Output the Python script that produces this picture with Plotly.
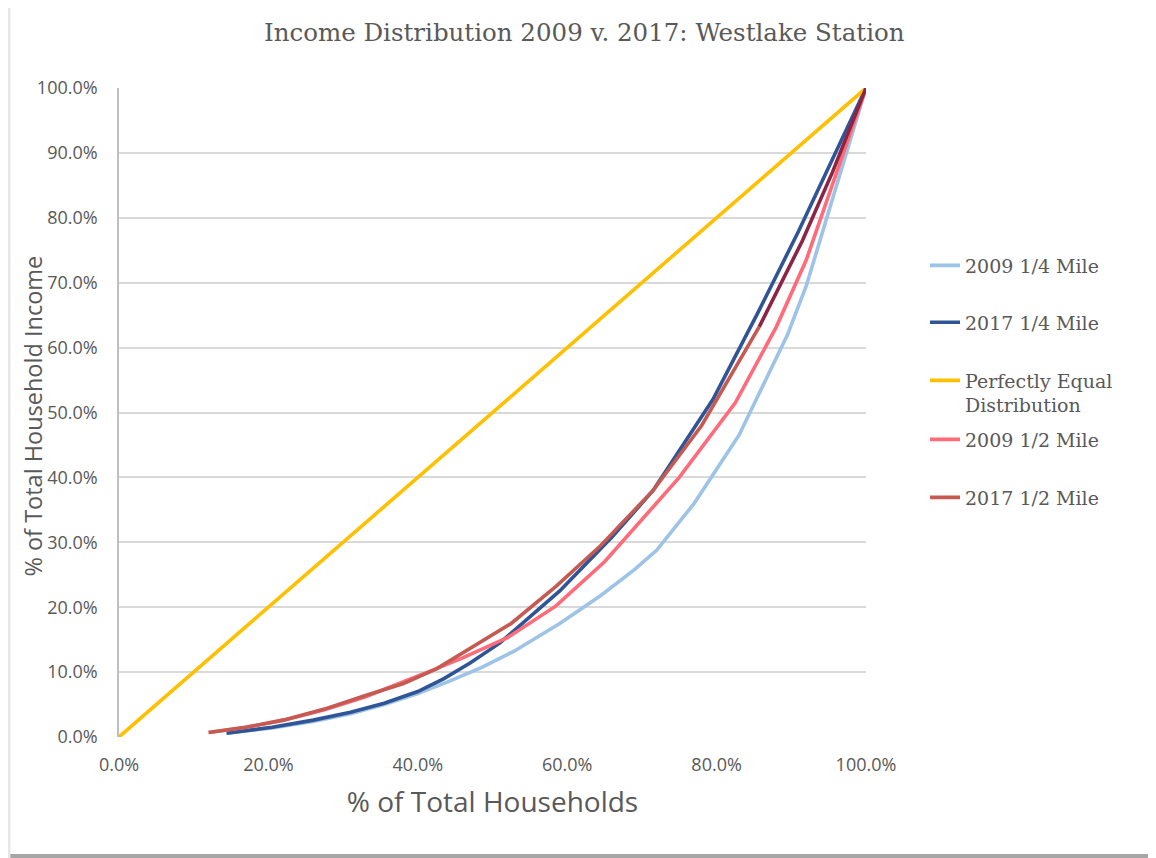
import plotly.graph_objects as go

# cumulative % of households (x) and % of income (y)
x_2009_qtr = [14.4, 20.5, 26, 31, 35.5, 40, 44, 48.5, 53, 59, 64.5, 69, 72, 77, 83, 89.5, 92, 100]
y_2009_qtr = [0.6, 1.4, 2.4, 3.6, 5.0, 6.7, 8.5, 10.7, 13.3, 17.5, 21.8, 25.8, 28.8, 36.0, 46.5, 62.0, 69.5, 100]

x_2017_qtr = [14.4, 20.5, 26, 31, 35.5, 40, 43.5, 47, 51, 59, 66, 71.5, 79.5, 85.5, 91, 100]
y_2017_qtr = [0.6, 1.5, 2.6, 3.8, 5.2, 7.0, 9.0, 11.4, 14.5, 22.5, 30.8, 38.0, 52.0, 65.3, 78.0, 100]

x_equal = [0, 100]
y_equal = [0, 100]

x_2009_half = [12.0, 17, 22, 27.5, 33, 38, 42, 46, 52, 58.5, 65, 75, 82.5, 88, 92, 100]
y_2009_half = [0.7, 1.5, 2.6, 4.2, 6.2, 8.4, 10.3, 12.2, 15.3, 20.2, 27.0, 40.0, 51.5, 63.2, 73.5, 100]

x_2017_half = [12.0, 17, 22, 27.5, 33, 38, 42.5, 47, 52.5, 58.5, 64.5, 71.5, 78, 85.7]
y_2017_half = [0.7, 1.5, 2.6, 4.3, 6.4, 8.2, 10.5, 13.6, 17.5, 23.2, 29.5, 38.0, 48.0, 63.2]
# last stretch of the 2017 1/2 mile line is drawn darker in the original
x_2017_half_end = [85.7, 91.5, 95.5, 100]
y_2017_half_end = [63.2, 76.5, 87.0, 100]

ticks_y = [0, 10, 20, 30, 40, 50, 60, 70, 80, 90, 100]
ticks_x = [0, 20, 40, 60, 80, 100]
labels_y = ['0.0%', '10.0%', '20.0%', '30.0%', '40.0%', '50.0%', '60.0%', '70.0%', '80.0%', '90.0%', '100.0%']
labels_x = ['0.0%', '20.0%', '40.0%', '60.0%', '80.0%', '100.0%']

W = 3.6
fig = go.Figure()
fig.add_trace(go.Scatter(x=x_2009_qtr, y=y_2009_qtr, mode='lines', name='2009 1/4 Mile',
                         line=dict(color='#9DC3E6', width=W), legend='legend'))
fig.add_trace(go.Scatter(x=x_2017_qtr, y=y_2017_qtr, mode='lines', name='2017 1/4 Mile',
                         line=dict(color='#2F5597', width=W), legend='legend2'))
fig.add_trace(go.Scatter(x=x_equal, y=y_equal, mode='lines', name='Perfectly Equal<br>Distribution',
                         line=dict(color='#FFC000', width=W), legend='legend3'))
fig.add_trace(go.Scatter(x=x_2009_half, y=y_2009_half, mode='lines', name='2009 1/2 Mile',
                         line=dict(color='#FF6B78', width=W), legend='legend4'))
fig.add_trace(go.Scatter(x=x_2017_half, y=y_2017_half, mode='lines', name='2017 1/2 Mile',
                         line=dict(color='#C55A52', width=W), legend='legend5'))
fig.add_trace(go.Scatter(x=x_2017_half_end, y=y_2017_half_end, mode='lines', showlegend=False,
                         line=dict(color='#8E2444', width=W)))

legend_font = dict(family='DejaVu Serif', size=19, color='#595959')
legend_tops = [0.7558, 0.6680, 0.5786, 0.4877, 0.3983]
legends = {}
for i, top in enumerate(legend_tops):
    key = 'legend' if i == 0 else 'legend%d' % (i + 1)
    legends[key] = dict(x=1.079, y=top, xanchor='left', yanchor='top', font=legend_font,
                        valign='top', bgcolor='rgba(0,0,0,0)')

fig.update_layout(
    width=1148, height=850,
    margin=dict(l=111, r=290, t=80, b=121),
    paper_bgcolor='white', plot_bgcolor='white',
    title=dict(text='Income Distribution 2009 v. 2017: Westlake Station',
               x=0.502, xanchor='center', y=0.9718, yanchor='middle',
               font=dict(family='DejaVu Serif', size=24.5, color='#595959')),
    font=dict(family='Open Sans', color='#595959'),
    **legends,
)
fig.update_xaxes(range=[0, 100], tickvals=ticks_x, ticktext=labels_x,
                 showgrid=False, zeroline=False, showline=False,
                 tickfont=dict(size=18, color='#595959'), ticks='', ticklabelstandoff=15,
                 title=dict(text='% of Total Households', font=dict(size=28, color='#595959'), standoff=17))
fig.update_yaxes(range=[0, 100], tickvals=ticks_y, ticktext=labels_y,
                 showgrid=True, gridcolor='#D9D9D9', gridwidth=1.5, zeroline=False,
                 showline=True, linecolor='#BFBFBF', linewidth=1.5,
                 tickfont=dict(size=18, color='#595959'), ticks='', ticklabelstandoff=16)

# y axis title sits closer to the tick labels than plotly's standoff allows
fig.add_annotation(text='% of Total Household Income', textangle=-90, showarrow=False,
                   xref='paper', yref='paper', x=-0.1151, y=0.4938, xanchor='center', yanchor='middle',
                   font=dict(family='Open Sans', size=23.5, color='#595959'))

# frame shadow along the bottom and left edge of the picture
fig.add_shape(type='rect', xref='paper', yref='paper', x0=-0.2, x1=1.5, y0=-0.1864, y1=-0.1803,
              fillcolor='#A6A6A6', line=dict(width=0), layer='above')
fig.add_shape(type='line', xref='paper', yref='paper', x0=-0.1473, x1=-0.1473, y0=-0.19, y1=1.13,
              line=dict(color='#E6E6E6', width=3), layer='above')

fig.write_html("out.html")
